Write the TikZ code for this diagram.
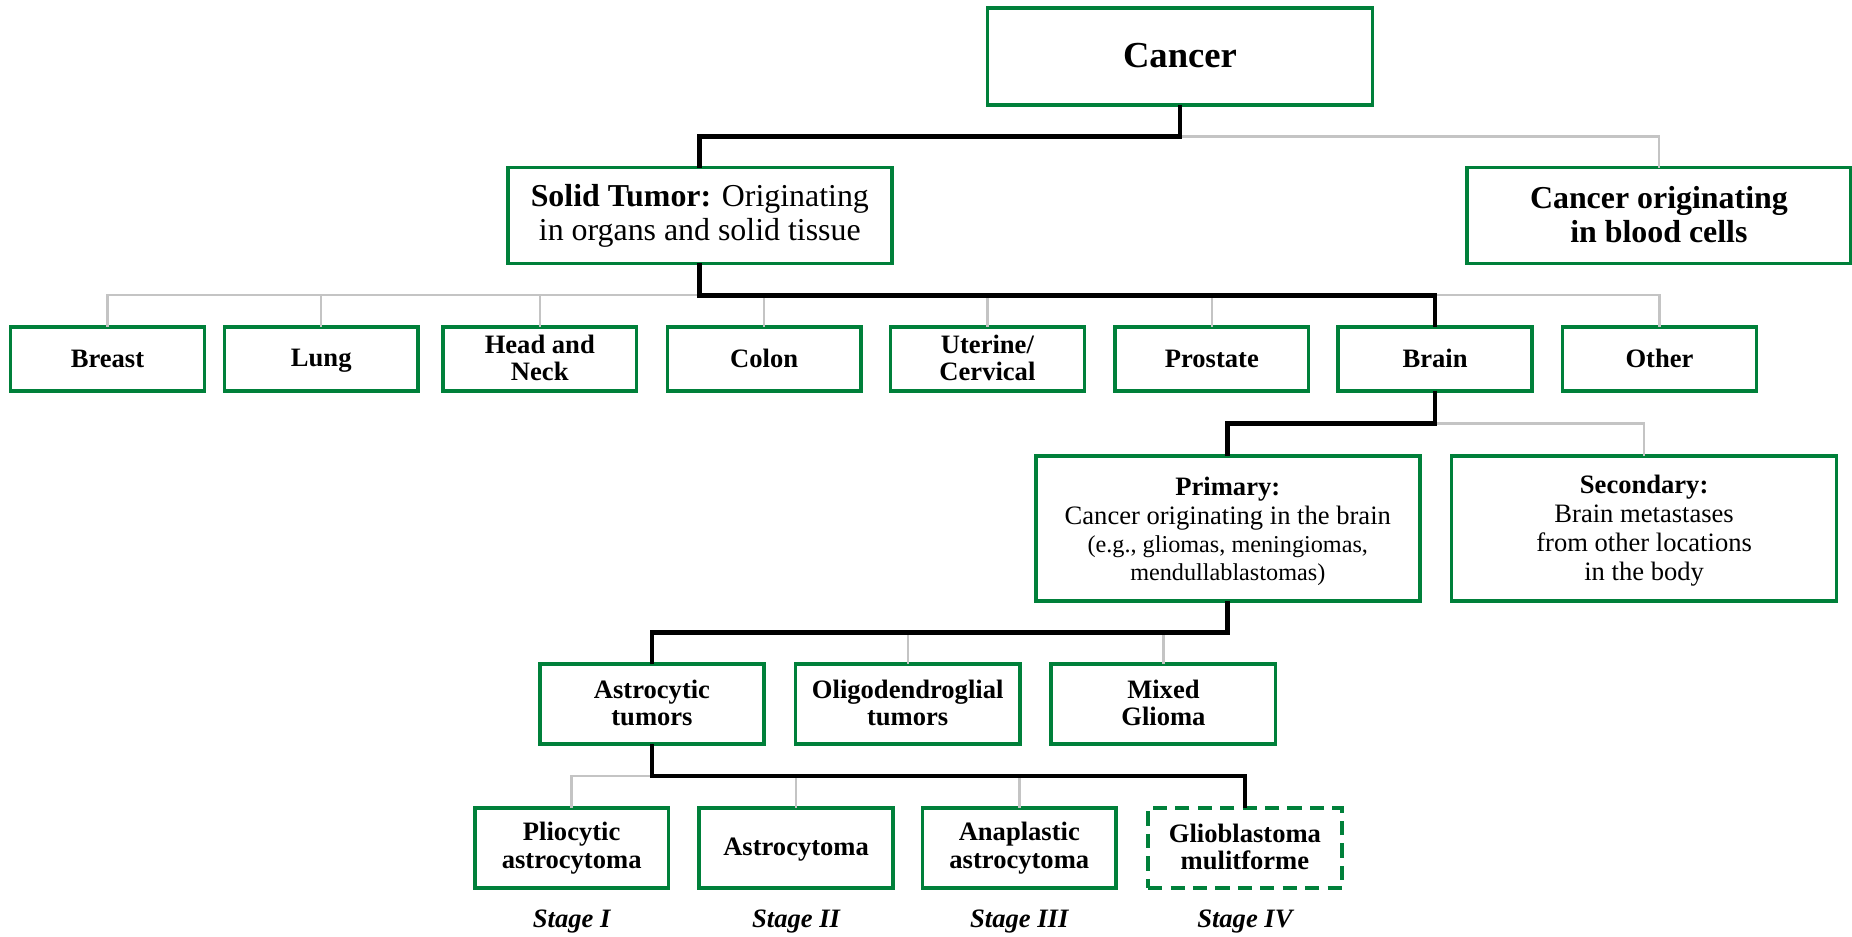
\documentclass[tikz,border=0pt]{standalone}
\usepackage{fontspec}
\setmainfont{Liberation Serif}
\usetikzlibrary{positioning}

\definecolor{boxgreen}{RGB}{0,128,58}
\definecolor{linegrey}{RGB}{196,196,196}

\newcommand{\boxstrut}{\rule[-2pt]{0pt}{19pt}}

\tikzset{
	box/.style = {draw = boxgreen, line width = 3pt, fill = white, align = center,
		inner sep = 0pt, outer sep = 0pt,
		execute at begin node = \boxstrut, execute at end node = \boxstrut,
		font = \fontsize{22.5}{23.5}\selectfont\bfseries},
	organ/.style = {box, minimum width = 164pt, minimum height = 54pt},
	glioma/.style = {box, minimum width = 190pt, minimum height = 68pt},
	grade/.style = {box, minimum width = 164pt, minimum height = 68pt},
	busline/.style = {line width = 4pt, black},
	greyline/.style = {line width = 2pt, linegrey},
	stagelabel/.style = {font = \fontsize{22.5}{23.5}\selectfont\bfseries\itshape}
}

\begin{document}
\begin{tikzpicture}[x = 1pt, y = -1pt]

\useasboundingbox (0,0) rectangle (1568,793);

% top of the tree
\node[box, font = \fontsize{31}{33}\selectfont\bfseries, minimum width = 326pt, minimum height = 82pt] (cancer) at (999, 48) {Cancer};

\node[box, font = \fontsize{27}{29}\selectfont, minimum width = 325pt, minimum height = 81pt] (solid) at (592.5, 182.5)
	{\textbf{Solid Tumor:} Originating\\in organs and solid tissue};

\node[box, font = \fontsize{27}{29}\selectfont\bfseries, minimum width = 325pt, minimum height = 81pt] (blood) at (1404.5, 182.5)
	{Cancer originating\\in blood cells};

% organs
\foreach \name/\x/\txt in {breast/91/Breast, lung/272/Lung, head/457/{Head and\\Neck}, colon/647/Colon,
		uterine/836/{Uterine/\\Cervical}, prostate/1026/Prostate, brain/1215/Brain, other/1405/Other}
	\node[organ] (\name) at (\x, 304) {\txt};

% primary / secondary
\node[box, font = \fontsize{22.5}{24}\selectfont, minimum width = 325pt, minimum height = 123pt] (primary) at (1039.5, 447.5)
	{\rule{0pt}{21pt}\textbf{Primary:}\\Cancer originating in the brain\\{\fontsize{20.5}{22}\selectfont (e.g., gliomas, meningiomas,}\\{\fontsize{20.5}{22}\selectfont mendullablastomas)}};

\node[box, font = \fontsize{22.5}{24.5}\selectfont, minimum width = 326pt, minimum height = 123pt] (secondary) at (1392, 447.5)
	{\rule{0pt}{19pt}\textbf{Secondary:}\\Brain metastases\\from other locations\\in the body};

% gliomas
\node[glioma] (astro) at (552, 596) {Astrocytic\\tumors};
\node[glioma] (oligo) at (768.5, 596) {Oligodendroglial\\tumors};
\node[glioma] (mixed) at (985, 596) {Mixed\\Glioma};

% grades
\node[grade] (plio) at (484, 718) {Pliocytic\\astrocytoma};
\node[grade] (astroc) at (674, 718) {Astrocytoma};
\node[grade] (anap) at (863, 718) {Anaplastic\\astrocytoma};
\node[grade, line width = 3.6pt, dash pattern = on 12pt off 7pt] (glio) at (1054, 718) {Glioblastoma\\mulitforme};

\node[stagelabel] (stage1) at (484, 780) {Stage I};
\node[stagelabel] (stage2) at (674, 780) {Stage II};
\node[stagelabel] (stage3) at (863, 780) {Stage III};
\node[stagelabel] (stage4) at (1054, 780) {Stage IV};

% connectors, grey first
\draw[greyline] (cancer.south) -- ++(0, 26.5) -| (blood.north);
\foreach \n in {breast, lung, head, colon, uterine, prostate, other}
	\draw[greyline] (solid.south) -- ++(0, 27) -| (\n.north);
\draw[greyline] (brain.south) -- ++(0, 27.5) -| (secondary.north);
\foreach \n in {oligo, mixed}
	\draw[greyline] (primary.south) -- ++(0, 26.5) -| (\n.north);
\foreach \n in {plio, astroc, anap}
	\draw[greyline] (astro.south) -- ++(0, 27) -| (\n.north);

\draw[busline] (cancer.south) -- ++(0, 26.5) -| (solid.north);
\draw[busline] (solid.south) -- ++(0, 27) -| (brain.north);
\draw[busline] (brain.south) -- ++(0, 27.5) -| (primary.north);
\draw[busline] (primary.south) -- ++(0, 26.5) -| (astro.north);
\draw[busline] (astro.south) -- ++(0, 27) -| (glio.north);

\end{tikzpicture}
\end{document}
